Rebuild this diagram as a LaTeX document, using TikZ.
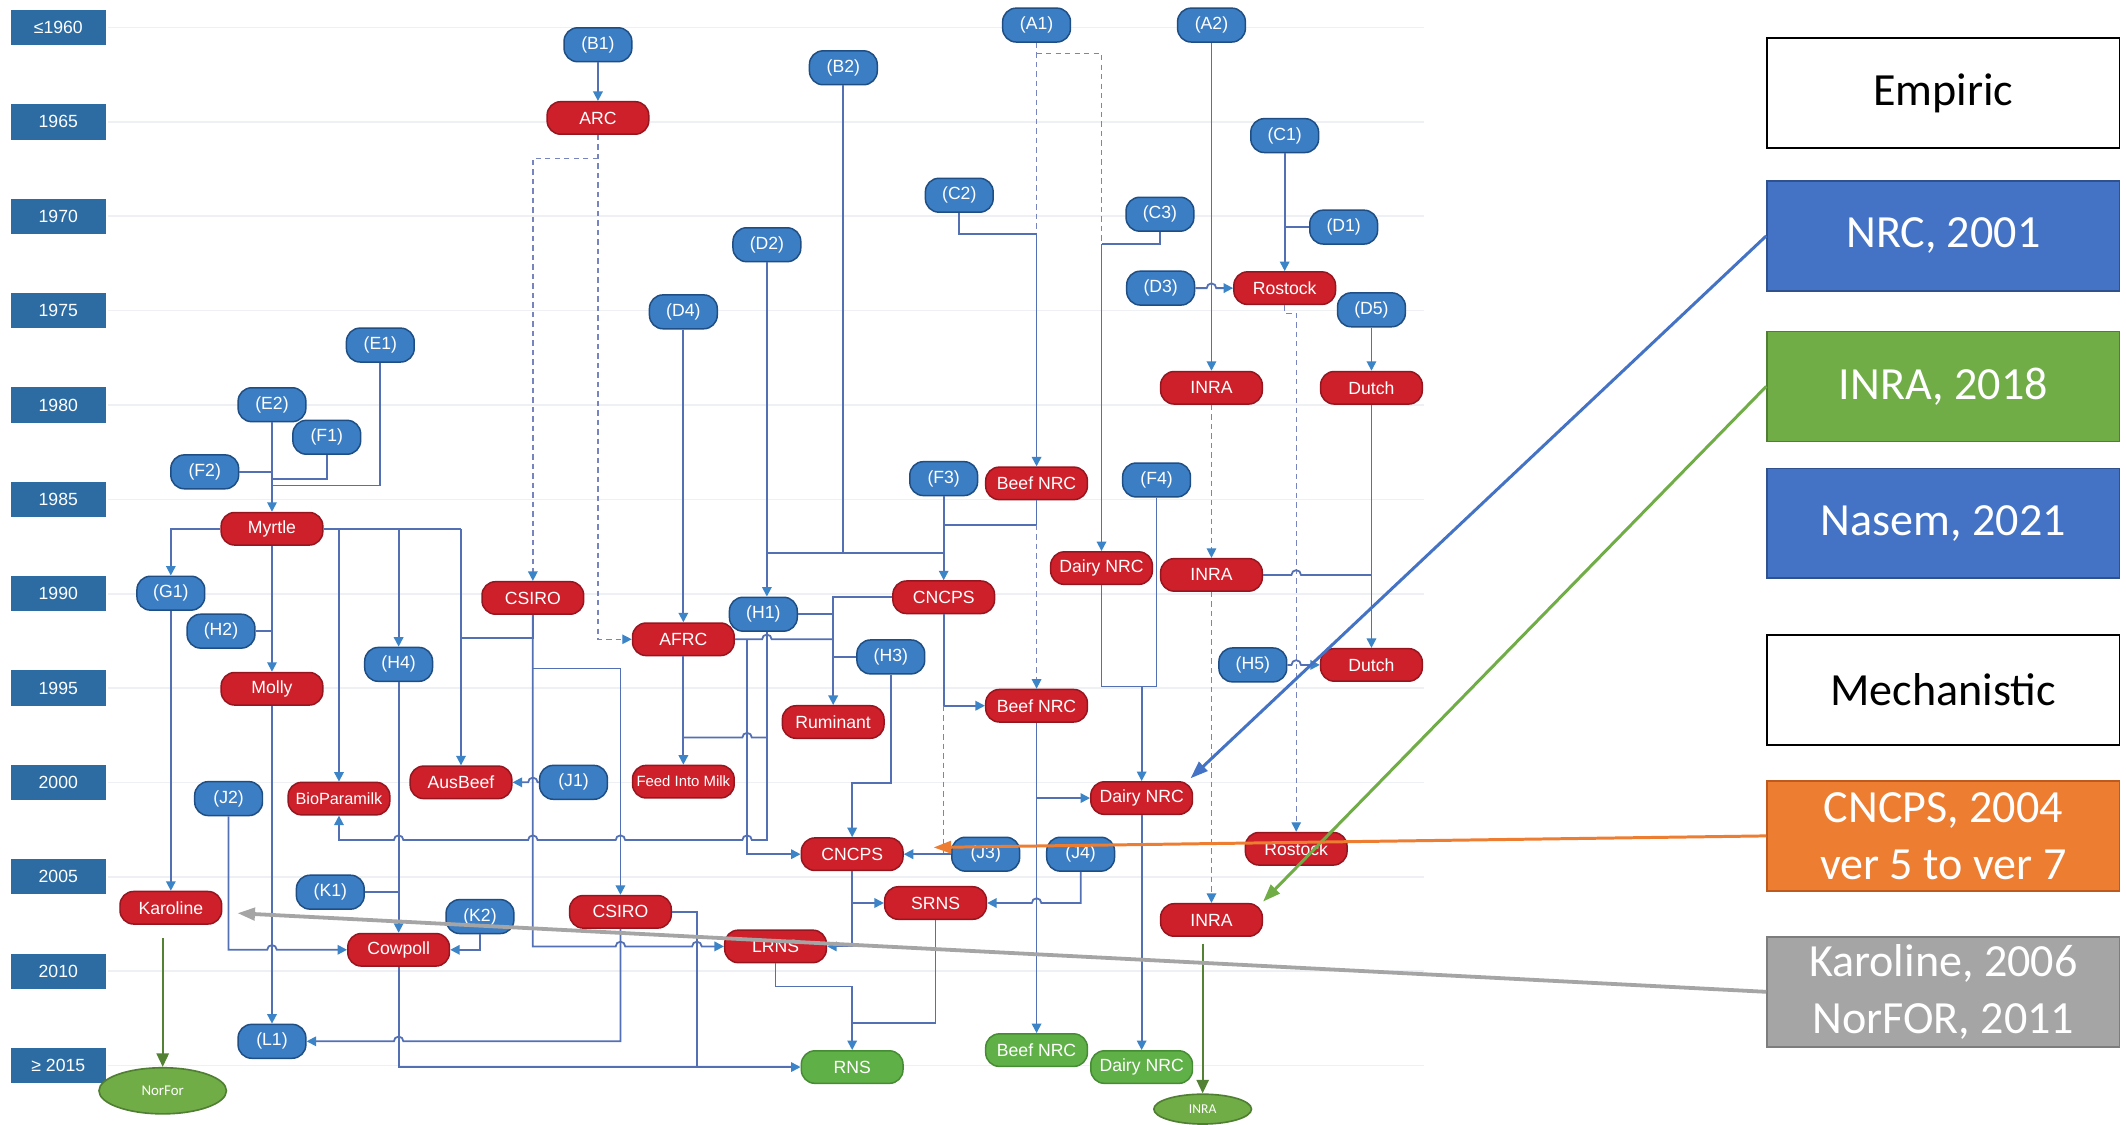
\documentclass[tikz,border=0pt]{standalone}
\usepackage{fontspec}
\setmainfont{Liberation Sans}
\newfontfamily\legfont{Carlito}
\usetikzlibrary{arrows.meta,shapes.geometric}
\definecolor{rednode}{RGB}{206,32,42}
\definecolor{redborder}{RGB}{150,22,32}
\definecolor{bluenode}{RGB}{60,126,196}
\definecolor{blueborder}{RGB}{30,78,132}
\definecolor{greennode}{RGB}{96,176,72}
\definecolor{greenborder}{RGB}{70,140,52}
\definecolor{yearblue}{RGB}{45,108,162}
\definecolor{linecol}{RGB}{84,112,180}
\definecolor{dashcol}{RGB}{120,132,190}
\definecolor{tipcol}{RGB}{60,132,200}
\definecolor{gridcol}{RGB}{238,240,244}
\definecolor{legblue}{RGB}{68,114,196}
\definecolor{legblueb}{RGB}{47,82,143}
\definecolor{leggreen}{RGB}{112,173,71}
\definecolor{leggreenb}{RGB}{80,126,50}
\definecolor{legorange}{RGB}{237,125,49}
\definecolor{legorangeb}{RGB}{190,90,30}
\definecolor{leggray}{RGB}{165,165,165}
\definecolor{leggrayb}{RGB}{125,125,125}
\definecolor{darkgreen}{RGB}{84,130,53}
\begin{document}
\begin{tikzpicture}[x=1pt,y=-1pt,
  basenode/.style={rounded corners=10pt, minimum height=24pt, inner sep=0pt,
    font=\fontsize{13}{15}\selectfont, text=white, line width=1.1pt},
  rnode/.style={basenode, fill=rednode, draw=redborder, minimum width=75pt},
  bnode/.style={basenode, fill=bluenode, draw=blueborder, minimum width=50pt, minimum height=25pt},
  gnode/.style={basenode, fill=greennode, draw=greenborder, minimum width=75pt},
  conn/.style={draw=linecol, line width=1.3pt},
  arr/.style={conn, -{Triangle[length=7pt,width=7pt,color=tipcol]}},
  dconn/.style={draw=dashcol, line width=1pt, dash pattern=on 4pt off 3pt},
  darr/.style={dconn, -{Triangle[length=7pt,width=7pt,color=tipcol]}},
  yearbox/.style={fill=yearblue, minimum width=70pt, minimum height=26pt, inner sep=0pt,
    text=white, font=\fontsize{13}{15}\selectfont},
  legbox/.style={minimum width=260pt, minimum height=81pt, inner sep=0pt, align=center,
    font=\legfont\fontsize{34}{42}\selectfont, line width=1.2pt},
  gell/.style={ellipse, fill=leggreen, draw=leggreenb, line width=1.2pt, inner sep=0pt,
    text=white},
  garr/.style={draw=darkgreen, line width=1.6pt, -{Triangle[length=10pt,width=9pt]}},
  legarr/.style={line width=2.2pt, -{Triangle[length=13pt,width=9pt]}}
]
\useasboundingbox (0,0) rectangle (1568,829);
\fill[white] (0,0) rectangle (1568,829);

% grid lines and year labels
\foreach \i in {0,...,11}
  \draw[gridcol, line width=1.2pt] (80,{20.3+69.6*\i}) -- (1050,{20.3+69.6*\i});
\foreach \lab [count=\i from 0] in {≤1960,1965,1970,1975,1980,1985,1990,1995,2000,2005,2010,≥ 2015}
  \node[yearbox] (yr\i) at (43,{20.3+69.6*\i}) {\lab};

% blue nodes
\node[bnode] (A1) at (764.5,18.5) {(A1)};
\node[bnode] (A2) at (893.5,18.5) {(A2)};
\node[bnode] (B1) at (441,33) {(B1)};
\node[bnode] (B2) at (622,50) {(B2)};
\node[bnode] (C1) at (947.5,100) {(C1)};
\node[bnode] (C2) at (707.5,144) {(C2)};
\node[bnode] (C3) at (855.5,158) {(C3)};
\node[bnode] (D1) at (991,167.5) {(D1)};
\node[bnode] (D2) at (565.6,180.5) {(D2)};
\node[bnode] (D3) at (856,212.5) {(D3)};
\node[bnode] (D4) at (504,230) {(D4)};
\node[bnode] (D5) at (1011.5,228.5) {(D5)};
\node[bnode] (E1) at (280.5,254.5) {(E1)};
\node[bnode] (E2) at (200.6,298.5) {(E2)};
\node[bnode] (F1) at (241,322.5) {(F1)};
\node[bnode] (F2) at (151,348) {(F2)};
\node[bnode] (F3) at (696,353) {(F3)};
\node[bnode] (F4) at (853,354) {(F4)};
\node[bnode] (G1) at (126,437.5) {(G1)};
\node[bnode] (H1) at (563,453) {(H1)};
\node[bnode] (H2) at (163,465.5) {(H2)};
\node[bnode] (H3) at (657,484.5) {(H3)};
\node[bnode] (H4) at (294,490) {(H4)};
\node[bnode] (H5) at (924,490.4) {(H5)};
\node[bnode] (J1) at (423,577) {(J1)};
\node[bnode] (J2) at (168.6,589) {(J2)};
\node[bnode] (J3) at (727,630) {(J3)};
\node[bnode] (J4) at (797,630) {(J4)};
\node[bnode] (K1) at (243.6,658) {(K1)};
\node[bnode] (K2) at (354,676) {(K2)};
\node[bnode] (L1) at (200.6,768) {(L1)};

% red nodes
\node[rnode] (ARC) at (441,87) {ARC};
\node[rnode] (Ros1) at (947.5,212.5) {Rostock};
\node[rnode] (INRA1) at (893.5,286) {INRA};
\node[rnode] (Dutch1) at (1011.5,286) {Dutch};
\node[rnode] (Beef1) at (764.5,356.5) {Beef NRC};
\node[rnode] (Myrtle) at (200.6,390) {Myrtle};
\node[rnode] (Dairy1) at (812.4,419) {Dairy NRC};
\node[rnode] (INRA2) at (893.5,424) {INRA};
\node[rnode] (CSIRO1) at (393,441) {CSIRO};
\node[rnode] (CNCPS1) at (696,440.5) {CNCPS};
\node[rnode] (AFRC) at (504,471.5) {AFRC};
\node[rnode] (Dutch2) at (1011.5,490.4) {Dutch};
\node[rnode] (Molly) at (200.6,508) {Molly};
\node[rnode] (Beef2) at (764.5,520.5) {Beef NRC};
\node[rnode] (Rumi) at (614.5,532.5) {Ruminant};
\node[rnode,font=\fontsize{12}{14}\selectfont] (BioP) at (250,589) {BioParamilk};
\node[rnode] (AusB) at (340,577) {AusBeef};
\node[rnode,font=\fontsize{11}{13}\selectfont] (FIM) at (504,576.5) {Feed Into Milk};
\node[rnode] (Dairy2) at (842,588.6) {Dairy NRC};
\node[rnode] (CNCPS2) at (628.5,630) {CNCPS};
\node[rnode] (Ros2) at (956,626) {Rostock};
\node[rnode] (SRNS) at (690,666) {SRNS};
\node[rnode] (Karo) at (126,669.5) {Karoline};
\node[rnode] (CSIRO2) at (457.6,672.5) {CSIRO};
\node[rnode] (INRA3) at (893.5,678.5) {INRA};
\node[rnode] (Cowp) at (294,700.5) {Cowpoll};
\node[rnode] (LRNS) at (572,698) {LRNS};

% green nodes
\node[gnode] (RNS) at (628.5,787) {RNS};
\node[gnode] (Beef3) at (764.5,774.5) {Beef NRC};
\node[gnode] (Dairy3) at (842,787) {Dairy NRC};

\node[gell, minimum width=94pt, minimum height=34pt, font=\legfont\fontsize{11}{13}\selectfont] (NorFor) at (120,804.5) {NorFor};
\node[gell, minimum width=72pt, minimum height=22pt, font=\legfont\fontsize{10}{12}\selectfont] (INRAe) at (887,818) {INRA};

% ---------- connectors ----------
% top centre
\draw[arr] (B1) -- (ARC);
\draw[darr] (ARC.south) -- (441,471.5) -- (AFRC.west);
\draw[darr] (441,117) -- (393,117) -- (CSIRO1.north);
\draw[dconn] (A1.south) -- (764.5,172.5);
\draw[dconn] (764.5,39.5) -- (812.4,39.5) -- (812.4,180);
\draw[arr] (764.5,172.5) -- (Beef1.north);
\draw[conn] (C2.south) -- (707.5,172.5) -- (764.5,172.5);
\draw[conn] (C3.south) -- (855.5,180) -- (812.4,180);
\draw[arr] (812.4,180) -- (Dairy1.north);

% right
\draw[arr] (A2) -- (INRA1);
\draw[arr] (D3.east) -- (890,212.5) arc[start angle=180,end angle=0,radius=3.5pt] -- (Ros1.west);
\draw[arr] (C1) -- (Ros1);
\draw[conn] (D1.west) -- (947.5,167.5);
\draw[darr] (Ros1.south) -- (947.5,231) -- (956,231) -- (Ros2.north);
\draw[arr] (D5) -- (Dutch1);
\draw[arr] (Dutch1) -- (Dutch2);
\draw[conn] (INRA2.east) -- (952.5,424) arc[start angle=180,end angle=0,radius=3.5pt] -- (1011.5,424);
\draw[darr] (INRA1) -- (INRA2);
\draw[darr] (INRA2) -- (INRA3);
\draw[arr] (H5.east) -- (952.5,490.4) arc[start angle=180,end angle=0,radius=3.5pt] -- (Dutch2.west);

% middle
\draw[conn] (Beef1.south) -- (764.5,387) -- (696,387);
\draw[darr] (764.5,387) -- (Beef2.north);
\draw[arr] (F3) -- (CNCPS1);
\draw[conn] (B2.south) -- (622,408);
\draw[conn] (565.6,408) -- (696,408);
\draw[arr] (D2.south) -- (D2.south |- H1.north);
\draw[arr] (D4) -- (AFRC);
\draw[arr] (AFRC) -- (FIM);
\draw[conn] (AFRC.east) -- (562.1,471.5) arc[start angle=180,end angle=0,radius=3.5pt] -- (614.5,471.5);
\draw[arr] (551,471.5) -- (551,630) -- (CNCPS2.west);
\draw[arr] (CNCPS1.west) -- (614.5,440.5) -- (Rumi.north);
\draw[conn] (H1.east) -- (614.5,453);
\draw[conn] (H3.west) -- (614.5,484.5);
\draw[arr] (H1.south -| 565.6,0) -- (565.6,619.6) -- (554.5,619.6)
  arc[start angle=0,end angle=180,radius=3.5pt] -- (461.1,619.6)
  arc[start angle=0,end angle=180,radius=3.5pt] -- (396.5,619.6)
  arc[start angle=0,end angle=180,radius=3.5pt] -- (297.5,619.6)
  arc[start angle=0,end angle=180,radius=3.5pt] -- (250,619.6) -- (BioP.south);
\draw[conn] (565.6,544) -- (554.5,544) arc[start angle=0,end angle=180,radius=3.5pt] -- (504,544);
\draw[arr] (CNCPS1.south) -- (696,520.5) -- (Beef2.west);
\draw[dconn] (696,520.5) -- (696,630);
\draw[arr] (J3.west) -- (CNCPS2.east);
\draw[arr] (H3.south) -- (657,577.6) -- (628.5,577.6) -- (CNCPS2.north);
\draw[arr] (Beef2) -- (Beef3);
\draw[arr] (764.5,588.6) -- (Dairy2.west);
\draw[conn] (Dairy1.south) -- (812.4,506.4) -- (853,506.4);
\draw[conn] (F4.south) -- (853,506.4);
\draw[arr] (842,506.4) -- (Dairy2.north);
\draw[arr] (Dairy2) -- (Dairy3);
\draw[arr] (J4.south) -- (797,666) -- (768,666) arc[start angle=0,end angle=180,radius=3.5pt] -- (SRNS.east);
\draw[arr] (CNCPS2.south) -- (628.5,698) -- (LRNS.east);
\draw[arr] (628.5,666) -- (SRNS.west);
\draw[conn] (SRNS.south) -- (690,754.6) -- (628.5,754.6);
\draw[arr] (LRNS.south) -- (572,727.6) -- (628.5,727.6) -- (RNS.north);

% left
\draw[arr] (E2) -- (Myrtle);
\draw[conn] (F2.east) -- (200.6,348);
\draw[conn] (F1.south) -- (241,353) -- (200.6,353);
\draw[conn] (E1.south) -- (280.5,358) -- (200.6,358);
\draw[arr] (Myrtle.west) -- (126,390) -- (G1.north);
\draw[conn] (Myrtle.east) -- (340,390);
\draw[arr] (250,390) -- (BioP.north);
\draw[arr] (294,390) -- (H4.north);
\draw[arr] (340,390) -- (AusB.north);
\draw[conn] (CSIRO1.south) -- (393,470.6) -- (340,470.6);
\draw[arr] (Myrtle) -- (Molly);
\draw[conn] (H2.east) -- (200.6,465.5);
\draw[arr] (Molly) -- (L1);
\draw[arr] (G1) -- (Karo);
\draw[arr] (H4) -- (Cowp);
\draw[conn] (K1.east) -- (294,658);
\draw[arr] (J2.south) -- (168.6,700.5) -- (197.1,700.5) arc[start angle=180,end angle=0,radius=3.5pt] -- (Cowp.west);
\draw[arr] (K2.south) -- (354,700.5) -- (Cowp.east);
\draw[arr] (Cowp.south) -- (294,787) -- (RNS.west);
\draw[conn] (CSIRO2.east) -- (514,672.5) -- (514,787);
\draw[arr] (CSIRO2.south) -- (457.6,768) -- (297.5,768) arc[start angle=0,end angle=180,radius=3.5pt] -- (L1.east);
\draw[arr] (CSIRO1.south) -- (393,698) -- (454.1,698) arc[start angle=180,end angle=0,radius=3.5pt]
  -- (510.5,698) arc[start angle=180,end angle=0,radius=3.5pt] -- (LRNS.west);
\draw[conn] (393,493) -- (457.6,493);
\draw[arr] (457.6,493) -- (CSIRO2.north);
\draw[arr] (J1.west) -- (396.5,577) arc[start angle=0,end angle=180,radius=3.5pt] -- (AusB.east);

% green arrows to ellipses
\coordinate (karoout) at (120,692);
\coordinate (inraout) at (887,696);
\draw[garr] (karoout) -- (NorFor.north);
\draw[garr] (inraout) -- (INRAe.north);

% legend
\node[legbox, draw=black, fill=white] (emp) at (1433.25,68.5) {Empiric};
\node[legbox, draw=legblueb, fill=legblue, text=white] (nrc) at (1433.25,174) {NRC, 2001};
\node[legbox, draw=leggreenb, fill=leggreen, text=white] (inra18) at (1433.25,285) {INRA, 2018};
\node[legbox, draw=legblueb, fill=legblue, text=white] (nasem) at (1433.25,386) {Nasem, 2021};
\node[legbox, draw=black, fill=white] (mech) at (1433.25,509) {Mechanistic};
\node[legbox, draw=legorangeb, fill=legorange, text=white] (cncpsleg) at (1433.25,616.5) {CNCPS, 2004\\ver 5 to ver 7};
\node[legbox, draw=leggrayb, fill=leggray, text=white] (karoleg) at (1433.25,731.5) {Karoline, 2006\\NorFOR, 2011};

\draw[legarr, draw=legblue, color=legblue] (nrc.west) -- ([xshift=-2pt,yshift=2pt]Dairy2.north east);
\draw[legarr, draw=leggreen, color=leggreen] (inra18.west) -- ([yshift=1pt]INRA3.north east);
\draw[legarr, draw=legorange, color=legorange] (cncpsleg.west) -- ([xshift=22pt,yshift=5pt]CNCPS2.east);
\draw[legarr, draw=leggray, color=leggray, line width=2.8pt] (karoleg.west) -- ([xshift=11pt,yshift=-4pt]Karo.east);
\end{tikzpicture}
\end{document}
